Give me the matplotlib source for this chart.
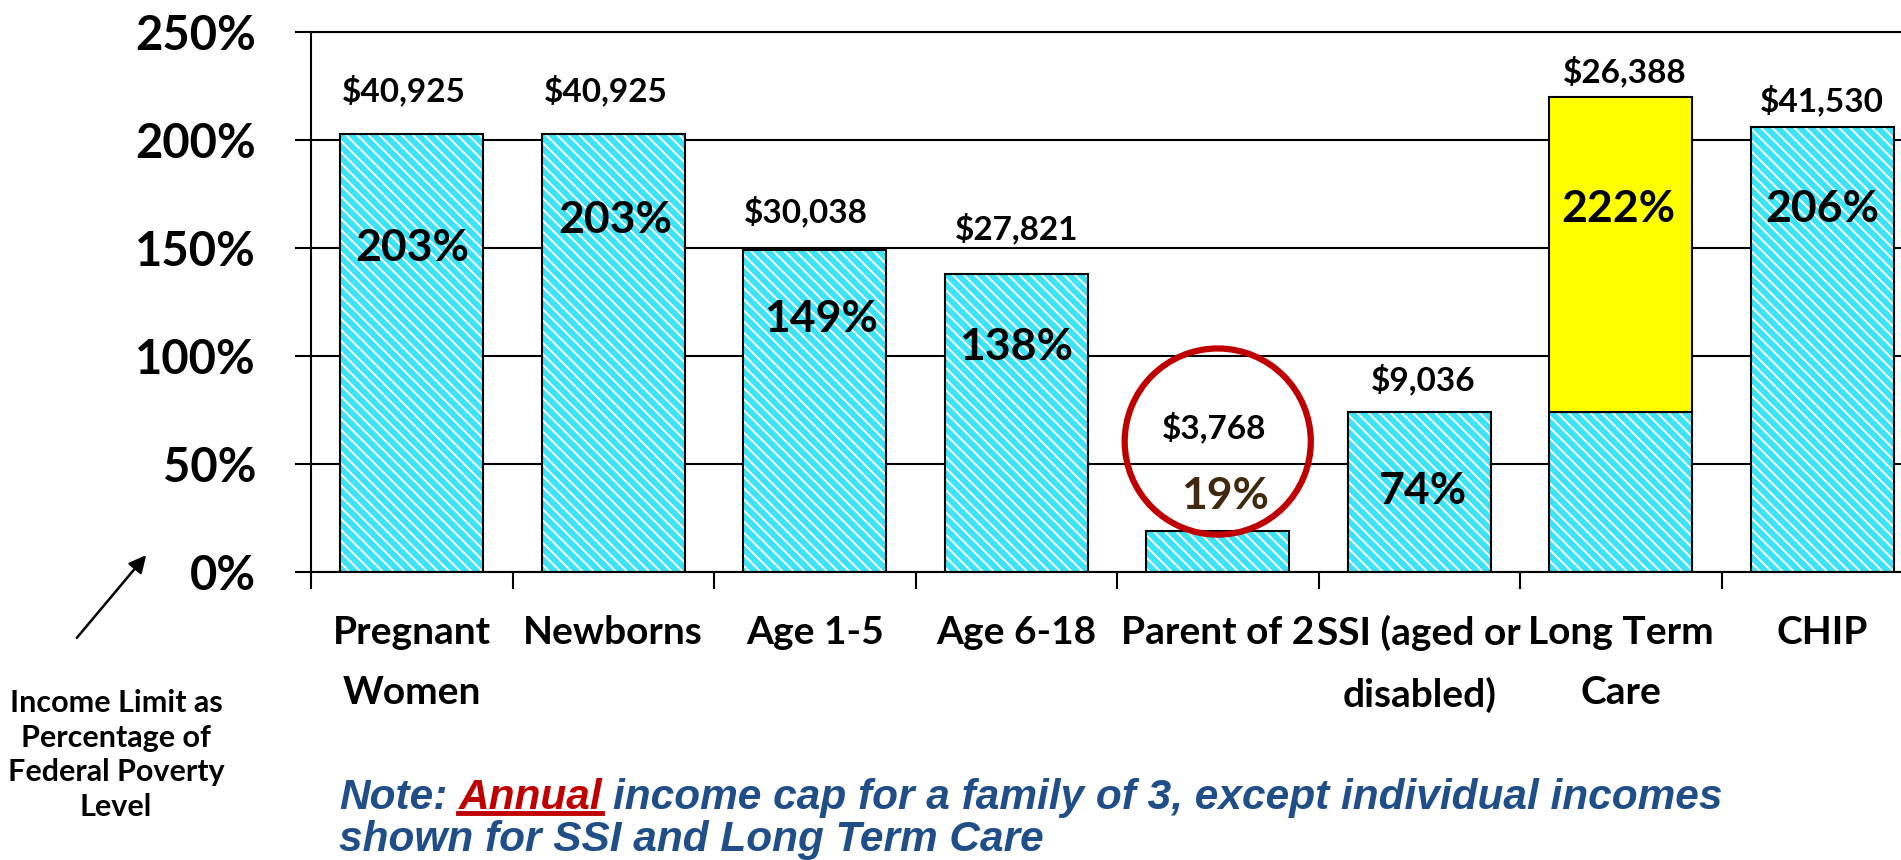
import matplotlib
matplotlib.use('Agg')
import matplotlib.pyplot as plt
from matplotlib.lines import Line2D
import numpy as np

#-- data
categories = ['Pregnant\nWomen', 'Newborns', 'Age 1-5', 'Age 6-18', 'Parent of 2',
              'SSI (aged or\ndisabled)', 'Long Term\nCare', 'CHIP']
base_pct = [203, 203, 149, 138, 19, 74, 74, 206]      # hatched part
ltc_extra_pct = [0, 0, 0, 0, 0, 0, 146, 0]          # yellow part on top (Long Term Care)
pct_labels = ['203%', '203%', '149%', '138%', '19%', '74%', '222%', '206%']
income_labels = ['$40,925', '$40,925', '$30,038', '$27,821', '$3,768', '$9,036', '$26,388', '$41,530']
y_ticks = [0, 50, 100, 150, 200, 250]

#-- label layout (data units)
pct_label_y = [150, 163, 117, 104, 35, 37.5, 168, 168]
pct_dx = [0, 0.01, 0.03, 0, 0.036, 0.02, -0.01, 0]
income_label_y = [222.7, 222.7, 166.7, 159, 67, 89, 231.5, 218.5]
income_dx = [-0.04, -0.036, -0.043, 0, -0.02, 0.02, 0.02, 0]

W, H = 1901, 860
cyan = '#3BE3F8'
navy = '#1F4E89'
red = '#C00000'

plt.rcParams['font.family'] = ['Lato', 'DejaVu Sans']
plt.rcParams['font.weight'] = 'bold'
plt.rcParams['hatch.linewidth'] = 1.4

fig = plt.figure(figsize=(W / 100, H / 100), dpi=100)
ax = fig.add_axes([311 / W, 1 - 572 / H, 1612 / W, 540 / H])

x = np.arange(len(categories))
# hatched bars: cyan fill with white diagonal stripes, then a black outline
ax.bar(x, base_pct, width=0.71, color=cyan, edgecolor='white', hatch='\\\\\\',
       linewidth=0, zorder=2)
ax.bar(x, base_pct, width=0.71, fill=False, edgecolor='black', linewidth=1.5, zorder=3)

# yellow stacked segment
idx = [i for i in range(len(x)) if ltc_extra_pct[i] > 0]
ax.bar(x[idx], [ltc_extra_pct[i] for i in idx], bottom=[base_pct[i] for i in idx],
       width=0.71, color='#FFFF00', edgecolor='black', linewidth=1.5, zorder=3)

for i in range(len(x)):
    col = '#40290F' if i == 4 else 'black'
    ax.text(x[i] + pct_dx[i], pct_label_y[i], pct_labels[i], ha='center', va='center',
            fontsize=32, color=col, zorder=6)
    ax.text(x[i] + income_dx[i], income_label_y[i], income_labels[i], ha='center',
            va='center', fontsize=24, color='black', zorder=6)

# red circle around Parent of 2
ax.scatter([4], [60.4], s=134 ** 2, facecolors='none', edgecolors=red,
           linewidths=4.5, zorder=5, clip_on=False)

ax.set_xlim(-0.5, len(categories) - 0.5)
ax.set_ylim(0, 250)
ax.set_yticks(y_ticks)
ax.set_yticklabels([f'{v}%' for v in y_ticks], fontsize=34)
ax.set_xticks(x)
ax.set_xticklabels(categories, fontsize=28, linespacing=1.85, va='top')
ax.set_xticks(np.arange(len(categories) + 1) - 0.5, minor=True)
ax.tick_params(axis='x', which='major', length=0, pad=31)
ax.tick_params(axis='x', which='minor', length=12, width=1.5, direction='out')
ax.tick_params(axis='y', length=11.5, width=1.5, direction='out', pad=28)
ax.yaxis.grid(True, color='black', linewidth=1.5)
ax.set_axisbelow(True)
for s in ['left', 'bottom', 'top']:
    ax.spines[s].set_linewidth(1.5)
ax.spines['right'].set_visible(False)

# y "label" and arrow at bottom-left
fig.text(116 / W, 1 - 755 / H, 'Income Limit as\nPercentage of\nFederal Poverty\nLevel',
         ha='center', va='center', fontsize=22, linespacing=1.3)
ax.annotate('', xy=(148 / W, 1 - 553 / H), xycoords='figure fraction',
            xytext=(75 / W, 1 - 640 / H), textcoords='figure fraction',
            arrowprops=dict(arrowstyle='-|>', color='black', lw=1.8, mutation_scale=26))

# note text with red underlined "Annual"
note_kw = dict(family='Liberation Sans', fontsize=30.5, fontweight='bold', fontstyle='italic')
t1 = fig.text(339 / W, 1 - 809 / H, 'Note:', color=navy, va='baseline', **note_kw)
t2 = ax.annotate('Annual', xy=(1, 0), xycoords=t1, xytext=(8, 0), textcoords='offset points',
                 va='bottom', ha='left', color=red, **note_kw)
t3 = ax.annotate('income cap for a family of 3, except individual incomes', xy=(1, 0),
                 xycoords=t2, xytext=(8, 0), textcoords='offset points',
                 va='bottom', ha='left', color=navy, **note_kw)
fig.text(339 / W, 1 - 851 / H, 'shown for SSI and Long Term Care', color=navy,
         va='baseline', **note_kw)

fig.canvas.draw()
bb = t2.get_window_extent()
uy = (H - 813) / H
fig.add_artist(Line2D([bb.x0 / W, bb.x1 / W], [uy, uy], color=red, linewidth=3.5,
                      transform=fig.transFigure))

fig.savefig('out.png', dpi=100)
